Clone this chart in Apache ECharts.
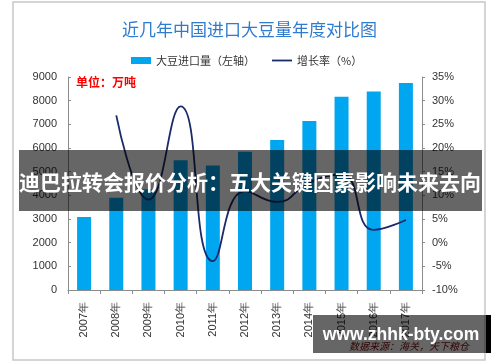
<!DOCTYPE html>
<html><head><meta charset="utf-8">
<script src="https://cdn.jsdelivr.net/npm/echarts@6/dist/echarts.min.js"></script>
<style>html,body{margin:0;padding:0;background:#fff}#c{width:500px;height:362px}</style>
</head><body><div id="c"></div>
<script>
var categories = ['2007年','2008年','2009年','2010年','2011年','2012年','2013年','2014年','2015年','2016年','2017年'];
var importVolume = [3082, 3900, 4255, 5480, 5264, 5838, 6338, 7140, 8169, 8391, 8750];
var growthRate = [null, 26.9, 9.1, 28.8, -3.9, 10.9, 8.6, 12.7, 14.4, 2.7, 4.8];
var leftTicks = {min: 0, max: 9000, interval: 1000};
var rightTicks = {min: -10, max: 35, interval: 5};
var titleText = '近几年中国进口大豆量年度对比图';
var unitText = '单位：万吨';
var seriesNames = ['大豆进口量（左轴）', '增长率（%）'];
var bannerText = '迪巴拉转会报价分析：五大关键因素影响未来去向';
var siteText = 'www.zhhk-bty.com';
var sourceText = '数据来源：海关，天下粮仓';

var cjk = '"Noto Sans CJK SC", sans-serif';
var latin = '"Liberation Sans", Arial, sans-serif';
var chart = echarts.init(document.getElementById('c'), null, {renderer: 'canvas'});
chart.setOption({
  animation: false,
  backgroundColor: '#fff',
  title: {text: titleText, left: 117, top: 16, textStyle: {fontFamily: cjk, fontSize: 17, fontWeight: 'normal', color: '#2E7BCF'}},
  legend: {
    left: 126, top: 50, itemWidth: 20, itemHeight: 7, itemGap: 17, symbolKeepAspect: true,
    textStyle: {fontFamily: cjk, fontSize: 11, color: '#333'},
    data: [
      {name: seriesNames[0], icon: 'rect'},
      {name: seriesNames[1], icon: 'path://M0,0L20,0L20,1.8L0,1.8Z'}
    ]
  },
  grid: {left: 68, right: 78, top: 77, bottom: 72},
  xAxis: {
    type: 'category', data: categories, boundaryGap: true,
    axisLine: {lineStyle: {color: '#8c8c8c'}},
    axisTick: {show: true, length: 4, lineStyle: {color: '#8c8c8c'}},
    axisLabel: {rotate: 90, margin: 12, fontSize: 11, color: '#333', fontFamily: latin}
  },
  yAxis: [
    {type: 'value', min: leftTicks.min, max: leftTicks.max, interval: leftTicks.interval,
     axisLine: {show: true, lineStyle: {color: '#8c8c8c'}},
     axisTick: {show: true, inside: true, length: 3, lineStyle: {color: '#8c8c8c'}},
     splitLine: {show: false},
     axisLabel: {margin: 11, fontSize: 11, color: '#333', fontFamily: latin, formatter: function (v) { return String(v); }}},
    {type: 'value', min: rightTicks.min, max: rightTicks.max, interval: rightTicks.interval,
     axisLine: {show: true, lineStyle: {color: '#8c8c8c'}},
     axisTick: {show: true, inside: false, length: 3, lineStyle: {color: '#8c8c8c'}},
     splitLine: {show: false},
     axisLabel: {margin: 10, fontSize: 11, color: '#333', fontFamily: latin, formatter: function (v) { return v + '%'; }}}
  ],
  series: [
    {name: seriesNames[0], type: 'bar', data: importVolume, barWidth: 14, yAxisIndex: 0,
     itemStyle: {color: '#00A6F0'}},
    {name: seriesNames[1], type: 'line', data: growthRate, yAxisIndex: 1, smooth: 0.5,
     symbol: 'none', showSymbol: false, lineStyle: {color: '#1B2A6B', width: 1.8}, itemStyle: {color: '#1B2A6B'}}
  ],
  graphic: [
    {type: 'rect', shape: {x: 13, y: 2, width: 472, height: 358}, style: {fill: null, stroke: '#c8c8c8', lineWidth: 1.5}, z: 1, silent: true},
    {type: 'text', x: 76, y: 76, style: {text: unitText, fill: '#FF0000', font: 'bold 12px ' + cjk}, z: 10},
    {type: 'rect', shape: {x: 19, y: 150, width: 463, height: 61}, style: {fill: 'rgba(0,0,0,0.6)'}, z: 100},
    {type: 'text', x: 250, y: 182, style: {text: bannerText, fill: '#fff', font: 'bold 21px ' + cjk, textAlign: 'center', textVerticalAlign: 'middle'}, z: 101},
    {type: 'text', x: 349, y: 346, style: {text: sourceText, fill: '#7a0a0a', font: 'italic 10px ' + cjk, textVerticalAlign: 'middle'}, z: 99},
    {type: 'rect', shape: {x: 313, y: 315, width: 173, height: 38}, style: {fill: 'rgba(0,0,0,0.6)'}, z: 100},
    {type: 'rect', shape: {x: 486, y: 315, width: 5, height: 38}, style: {fill: '#000'}, z: 100},
    {type: 'text', x: 401, y: 335, style: {text: siteText, fill: '#fff', font: 'bold 17.5px ' + latin, textAlign: 'center', textVerticalAlign: 'middle'}, z: 101}
  ]
});
</script></body></html>
